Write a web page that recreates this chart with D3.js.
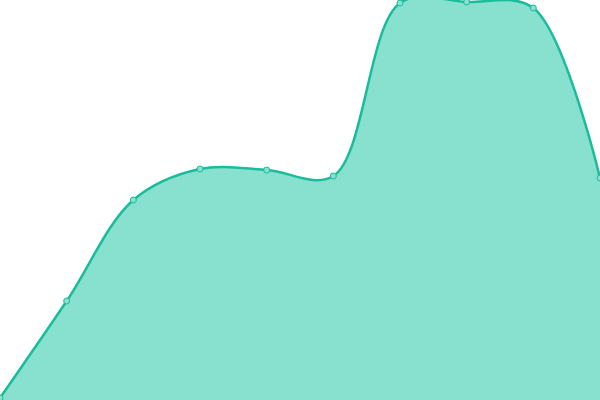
<!DOCTYPE html>
<html>
<head>
<meta charset="utf-8">
<script src="https://cdn.jsdelivr.net/npm/d3@7"></script>
<style>
	html, body { margin: 0; padding: 0; background: #fff; }
	svg { display: block; }
</style>
</head>
<body>
<svg id="chart" width="600" height="400"></svg>
<script>
// Series (index along x, value on a 0..400 scale).
const steps = [0, 1, 2, 3, 4, 5, 6, 7, 8, 9];
const values = [2, 99, 200, 231, 230, 224, 397, 398, 392, 222];

const W = 600, H = 400;
const COLORS = {
	line: "#1abc9c",
	fill: "#88e0cf",
	dot:  "#88e0cf",
};

const svg = d3.select("#chart");
const x = d3.scaleLinear().domain([0, steps.length - 1]).range([0, W]);
const y = d3.scaleLinear().domain([0, 400]).range([H, 0]);

const curve = d3.curveCatmullRom.alpha(0.5);

const area = d3.area()
	.x((d, i) => x(steps[i]))
	.y0(H)
	.y1(d => y(d))
	.curve(curve);

const line = d3.line()
	.x((d, i) => x(steps[i]))
	.y(d => y(d))
	.curve(curve);

svg.append("path")
	.datum(values)
	.attr("d", area)
	.attr("fill", COLORS.fill);

svg.append("path")
	.datum(values)
	.attr("d", line)
	.attr("fill", "none")
	.attr("stroke", COLORS.line)
	.attr("stroke-width", 2.5);

svg.selectAll("circle")
	.data(values)
	.join("circle")
	.attr("cx", (d, i) => x(steps[i]))
	.attr("cy", d => y(d))
	.attr("r", 3)
	.attr("fill", COLORS.dot)
	.attr("stroke", COLORS.line)
	.attr("stroke-width", 1);
</script>
</body>
</html>
